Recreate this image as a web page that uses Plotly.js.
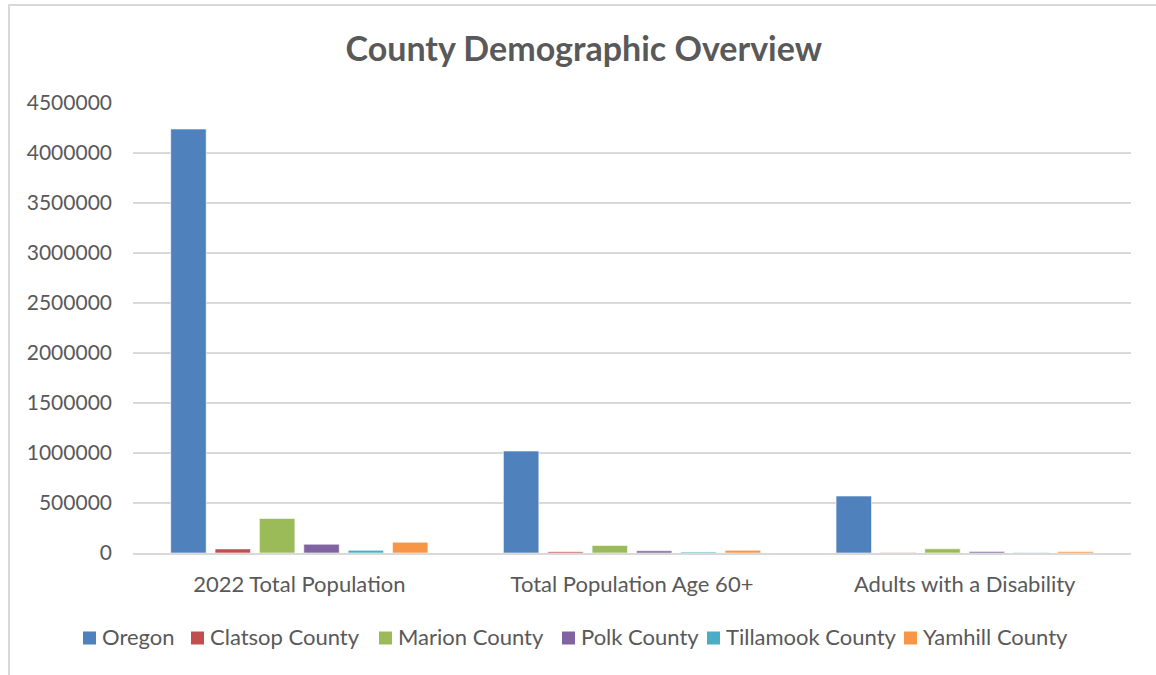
<!DOCTYPE html>
<html>
<head>
<meta charset="utf-8">
<script src="https://cdn.plot.ly/plotly-3.0.1.min.js"></script>
<style>
  html, body { margin: 0; padding: 0; background: #fff; }
  #wrap { position: relative; width: 1156px; height: 675px; overflow: hidden; }
  #chart { width: 1156px; height: 675px; }
  #frame { position: absolute; left: 8px; top: 4px; width: 1160px; height: 690px;
           border-left: 2px solid #d9d9d9; border-top: 2px solid #d9d9d9; pointer-events: none; }
</style>
</head>
<body>
<div id="wrap">
  <div id="chart"></div>
  <div id="frame"></div>
</div>
<script>
const categories = ["2022 Total Population", "Total Population Age 60+", "Adults with a Disability"];
const seriesNames = ["Oregon", "Clatsop County", "Marion County", "Polk County", "Tillamook County", "Yamhill County"];
const oregon    = [4240000, 1020000, 570000];
const clatsop   = [41000, 13000, 5000];
const marion    = [345000, 75000, 42000];
const polk      = [88000, 22000, 14000];
const tillamook = [27000, 10000, 5000];
const yamhill   = [108000, 27000, 15000];
const colors = ["#4F81BD", "#C0504D", "#9BBB59", "#8064A2", "#4BACC6", "#F79646"];

const allValues = [oregon, clatsop, marion, polk, tillamook, yamhill];
const fontFam = "Lato, 'Open Sans', sans-serif";

// plot-area geometry (pixels)
const W = 1156, H = 675;
const M = { l: 133, r: 25, t: 103, b: 122 };
const plotW = W - M.l - M.r, plotH = H - M.t - M.b;
const pxToPaperX = px => (px - M.l) / plotW;
const pxToPaperY = py => (H - M.b - py) / plotH;

// legend layout: left edge of each swatch (px), swatch size, row centre
const legendSwatchLeft = [83, 191, 379, 562, 707, 904];
const swatch = 13, legendRowY = 638;

const traces = seriesNames.map((name, i) => ({
  type: "bar",
  name: name,
  x: categories,
  y: allValues[i],
  marker: { color: colors[i], line: { color: "rgba(255,255,255,0.6)", width: 1 } },
  hoverinfo: "x+y+name"
}));

const shapes = seriesNames.map((name, i) => ({
  type: "rect", xref: "paper", yref: "paper",
  x0: pxToPaperX(legendSwatchLeft[i]), x1: pxToPaperX(legendSwatchLeft[i] + swatch),
  y0: pxToPaperY(legendRowY - swatch / 2), y1: pxToPaperY(legendRowY + swatch / 2),
  fillcolor: colors[i], line: { width: 0 }
}));

const annotations = seriesNames.map((name, i) => ({
  text: name, xref: "paper", yref: "paper",
  x: pxToPaperX(legendSwatchLeft[i] + swatch + 4), y: pxToPaperY(legendRowY - 2),
  xanchor: "left", yanchor: "middle", showarrow: false,
  font: { family: fontFam, size: 22, color: "#595959" }
}));

const layout = {
  width: W,
  height: H,
  paper_bgcolor: "#ffffff",
  plot_bgcolor: "#ffffff",
  margin: { l: M.l, r: M.r, t: M.t, b: M.b, autoexpand: false },
  barmode: "group",
  bargap: 0.2,
  bargroupgap: 0.2,
  title: {
    text: "<b>County Demographic Overview</b>",
    font: { family: fontFam, size: 34, color: "#595959" },
    x: 0.505, xref: "container", xanchor: "center",
    y: 0.928, yref: "container", yanchor: "middle"
  },
  font: { family: fontFam, color: "#595959" },
  xaxis: {
    type: "category",
    showgrid: false,
    showline: true,
    linecolor: "#d9d9d9",
    linewidth: 2,
    ticks: "",
    ticklabelstandoff: 11,
    tickfont: { family: fontFam, size: 22, color: "#595959" }
  },
  yaxis: {
    range: [0, 4500000],
    dtick: 500000,
    tick0: 0,
    tickformat: "d",
    showgrid: true,
    gridcolor: "#d9d9d9",
    gridwidth: 1.5,
    zeroline: false,
    showline: false,
    ticks: "",
    ticklabelstandoff: 20,
    tickfont: { family: fontFam, size: 21, color: "#595959" }
  },
  showlegend: false,
  shapes: shapes,
  annotations: annotations
};

Plotly.newPlot("chart", traces, layout, { displayModeBar: false, staticPlot: true });
</script>
</body>
</html>
